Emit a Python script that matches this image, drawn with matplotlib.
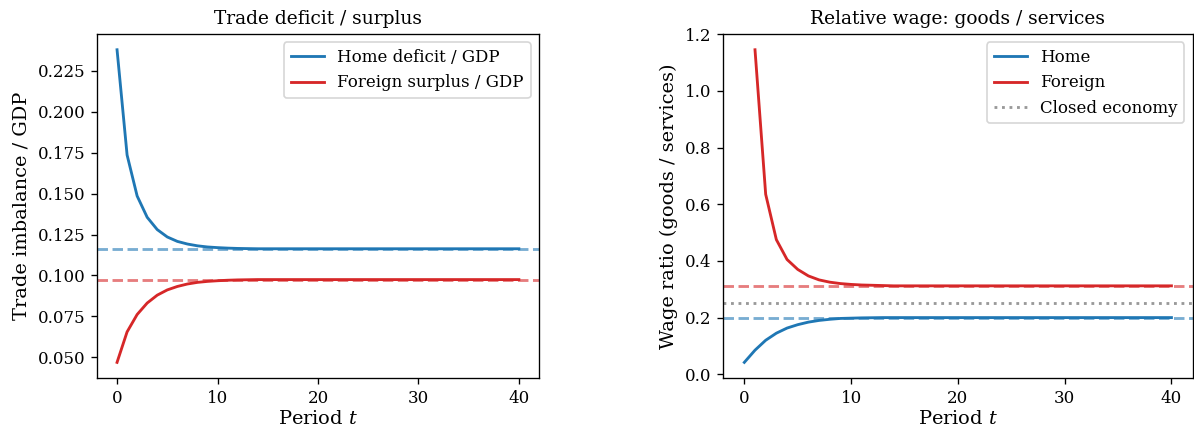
import numpy as np
import matplotlib.pyplot as plt

plt.rcParams['font.family'] = 'DejaVu Serif'
plt.rcParams['mathtext.fontset'] = 'dejavuserif'

# periods
t = np.arange(41)

# trade imbalance paths
home_deficit_head = [0.2377, 0.1735, 0.1485, 0.1355, 0.1280, 0.1235, 0.1208,
                     0.1192, 0.1181, 0.1174, 0.1170, 0.1167, 0.1165, 0.1164]
foreign_surplus_head = [0.0470, 0.0656, 0.0762, 0.0832, 0.0880, 0.0912, 0.0933,
                        0.0948, 0.0958, 0.0964, 0.0968, 0.0971, 0.0973, 0.0974]
home_deficit_ss = 0.1163
foreign_surplus_ss = 0.0975

# relative wage paths (foreign undefined at t=0)
home_wage_head = [0.042, 0.085, 0.120, 0.145, 0.163, 0.175, 0.184, 0.190,
                  0.194, 0.197, 0.198, 0.199, 0.1995, 0.2]
foreign_wage_head = [np.nan, 1.145, 0.635, 0.475, 0.405, 0.370, 0.347, 0.333,
                     0.325, 0.320, 0.317, 0.315, 0.314, 0.313]
home_wage_ss = 0.2
foreign_wage_ss = 0.312
closed_wage = 0.25

xticks = [0, 10, 20, 30, 40]


def extend(head, ss):
    return np.array(head + [ss] * (len(t) - len(head)))


home_deficit = extend(home_deficit_head, home_deficit_ss)
foreign_surplus = extend(foreign_surplus_head, foreign_surplus_ss)
home_wage = extend(home_wage_head, home_wage_ss)
foreign_wage = extend(foreign_wage_head, foreign_wage_ss)

blue = '#1f77b4'
red = '#d62728'

fig = plt.figure(figsize=(9.95, 3.6), dpi=120)
ax1 = fig.add_axes([0.0812, 0.125, 0.3702, 0.796])
ax2 = fig.add_axes([0.6055, 0.125, 0.3935, 0.796])

# left panel
ax1.plot(t, home_deficit, color=blue, lw=1.7, label='Home deficit / GDP')
ax1.plot(t, foreign_surplus, color=red, lw=1.7, label='Foreign surplus / GDP')
ax1.axhline(home_deficit_ss, color=blue, ls='--', lw=1.7, alpha=0.6)
ax1.axhline(foreign_surplus_ss, color=red, ls='--', lw=1.7, alpha=0.6)
ax1.set_title('Trade deficit / surplus', fontsize=11.2)
ax1.set_xlabel('Period $t$', fontsize=11.6, labelpad=2)
ax1.set_ylabel('Trade imbalance / GDP', fontsize=11.6)
ax1.legend(fontsize=10, loc='upper right')

# right panel
ax2.plot(t, home_wage, color=blue, lw=1.7, label='Home')
ax2.plot(t, foreign_wage, color=red, lw=1.7, label='Foreign')
ax2.axhline(closed_wage, color='gray', ls=':', lw=1.7, alpha=0.8, label='Closed economy')
ax2.axhline(home_wage_ss, color=blue, ls='--', lw=1.7, alpha=0.6)
ax2.axhline(foreign_wage_ss, color=red, ls='--', lw=1.7, alpha=0.6)
ax2.set_title('Relative wage: goods / services', fontsize=11.2)
ax2.set_xlabel('Period $t$', fontsize=11.6, labelpad=2)
ax2.set_ylabel('Wage ratio (goods / services)', fontsize=11.6)
ax2.legend(fontsize=10, loc='upper right')

for ax in (ax1, ax2):
    ax.set_xticks(xticks)
    ax.tick_params(labelsize=10)

fig.savefig('out.png', dpi=120)
